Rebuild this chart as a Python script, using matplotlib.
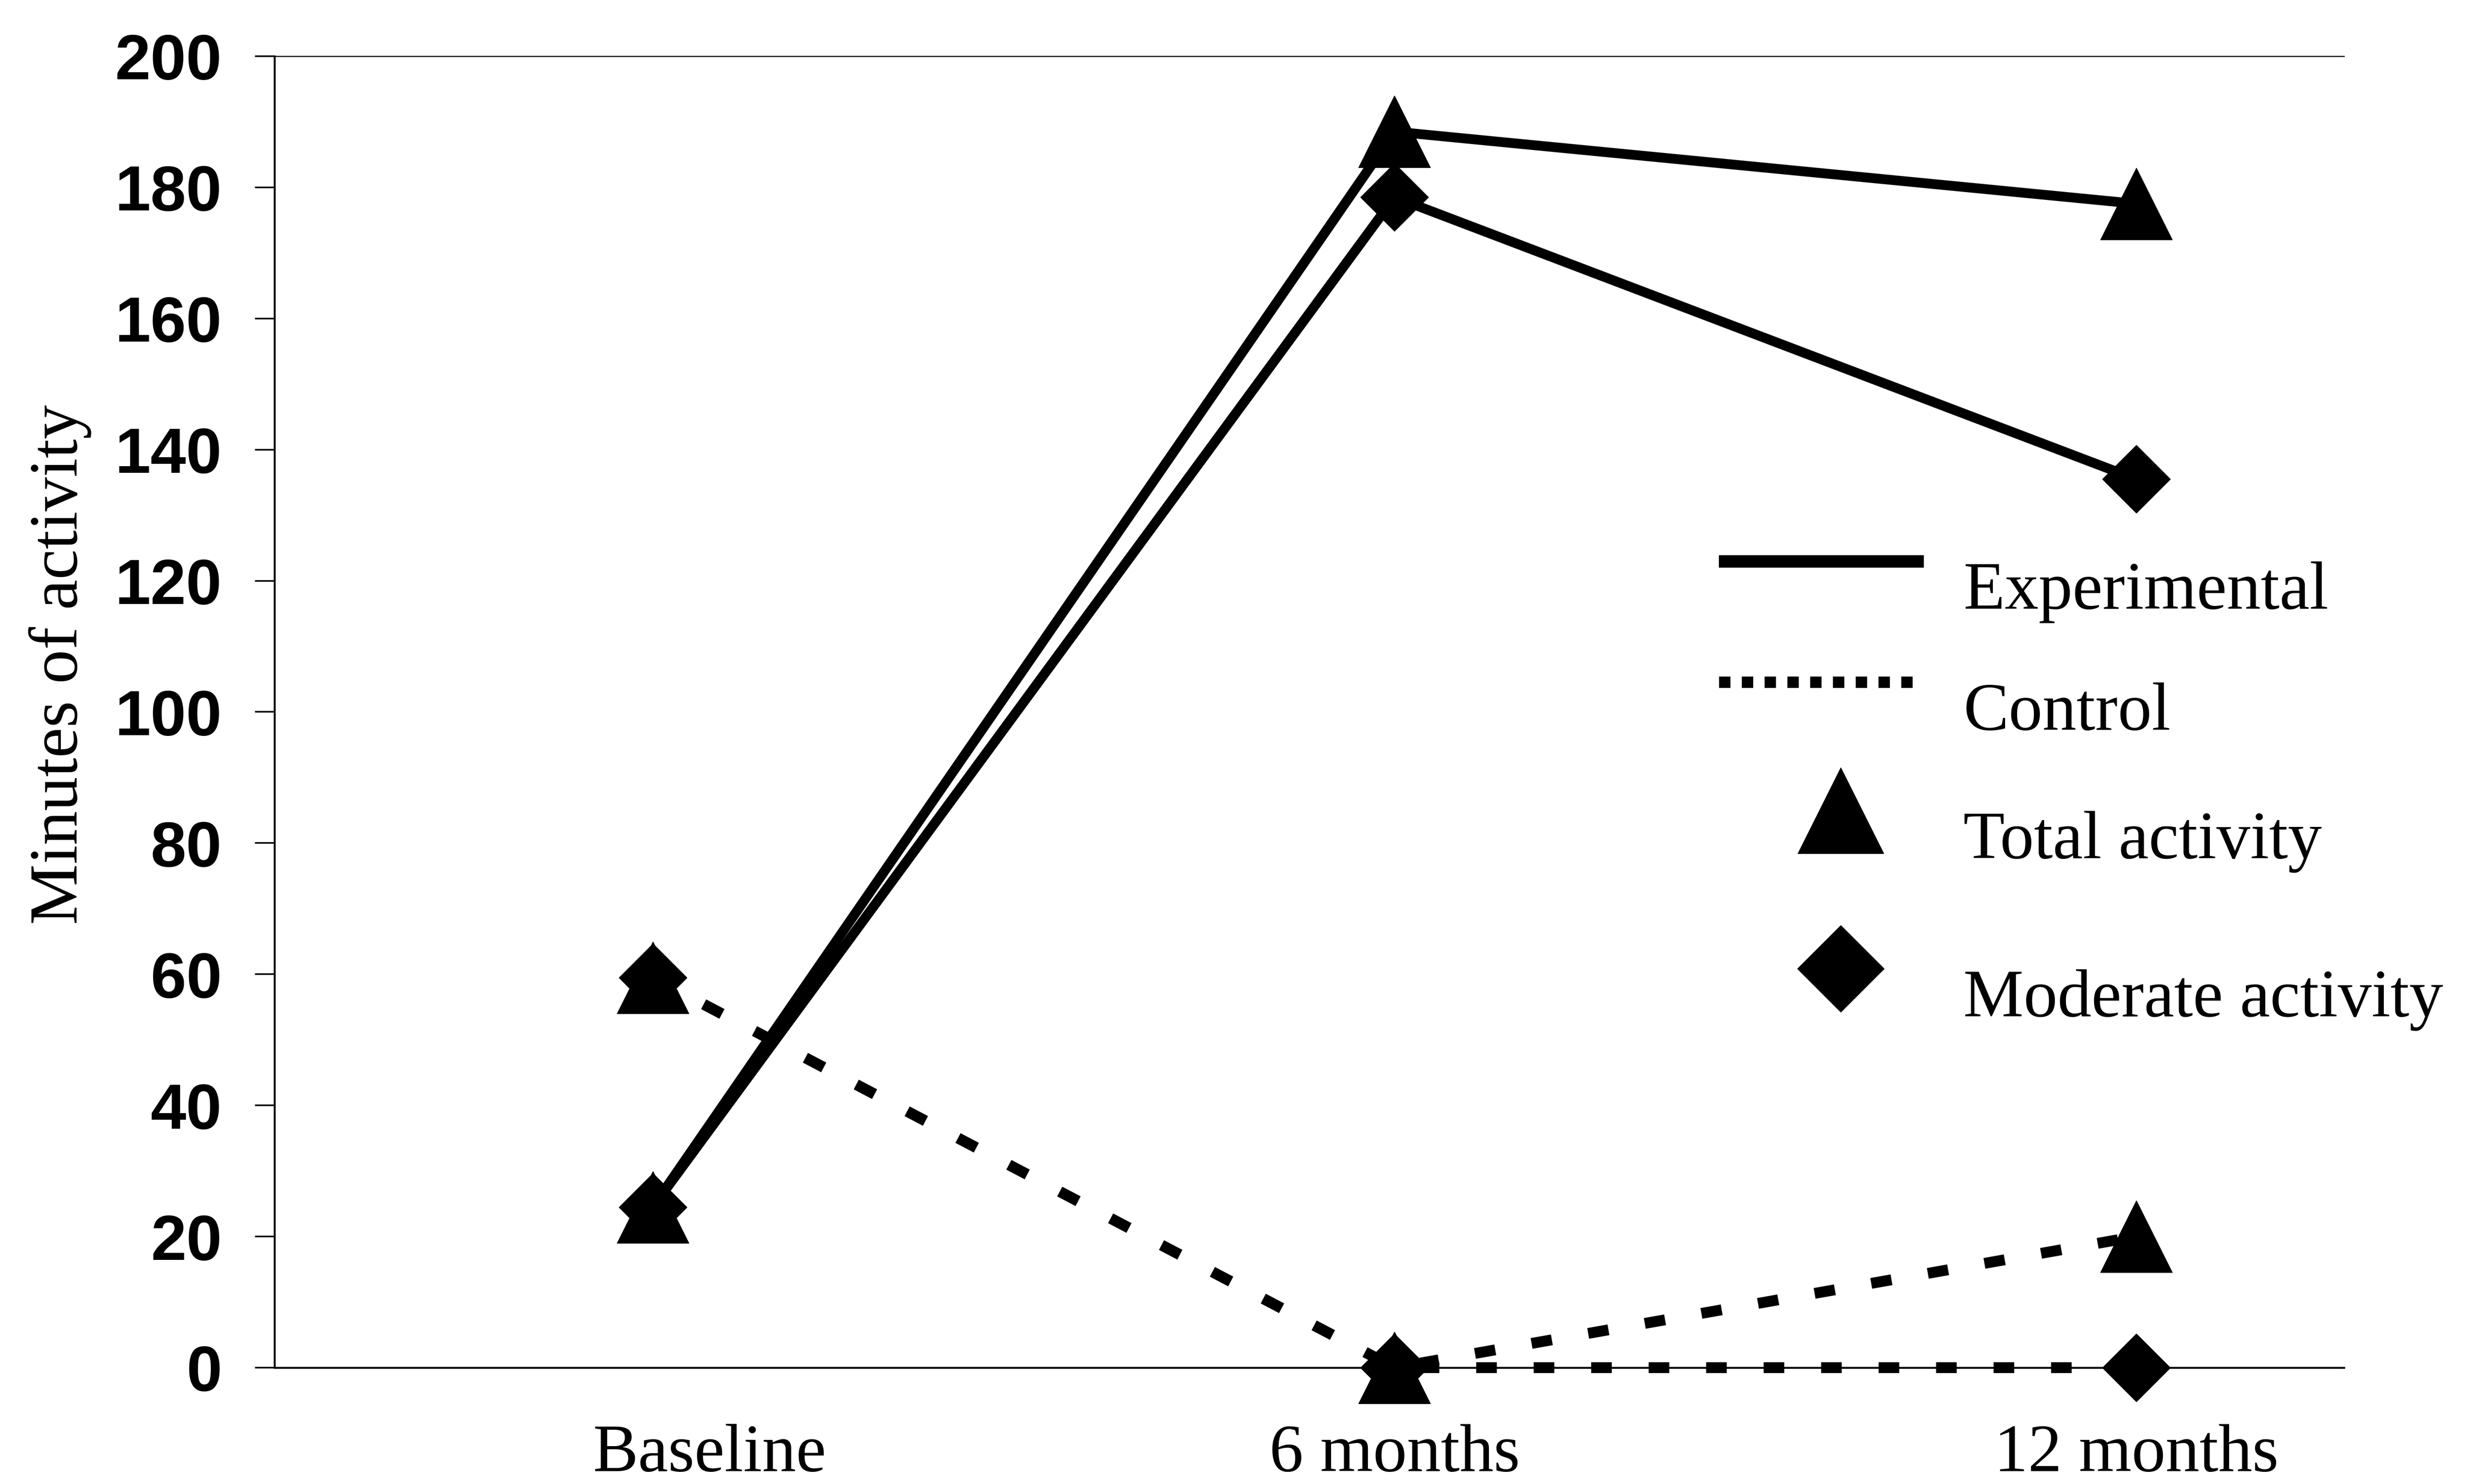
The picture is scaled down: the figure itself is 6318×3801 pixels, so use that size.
import matplotlib
matplotlib.use("Agg")
import matplotlib.pyplot as plt
from matplotlib.lines import Line2D
from matplotlib.legend_handler import HandlerLine2D
from matplotlib.transforms import ScaledTranslation

# ---- data ----
categories = ["Baseline", "6 months", "12 months"]
exp_total = [24.5, 188.5, 177.5]
exp_moderate = [24.5, 178.5, 135.5]
ctrl_total = [59.5, 0, 20]
ctrl_moderate = [59.5, 0, 0]
y_ticks = [0, 20, 40, 60, 80, 100, 120, 140, 160, 180, 200]
line_labels = ["Experimental", "Control"]
marker_labels = ["Total activity", "Moderate activity"]
y_label = "Minutes of activity"


class RaisedHandler(HandlerLine2D):
    """Legend handler that draws the sample a bit above the text centre."""

    def __init__(self, shift, **kw):
        super().__init__(**kw)
        self.shift = shift

    def create_artists(self, legend, orig_handle, xdescent, ydescent, width,
                       height, fontsize, trans):
        return super().create_artists(legend, orig_handle, xdescent,
                                      ydescent - 2 * self.shift, width, height,
                                      fontsize, trans)


W, H = 6318, 3801
fig = plt.figure(figsize=(W / 100, H / 100), dpi=100)
ax = fig.add_axes([703 / W, 1 - 3503 / H, 5300 / W, 3359 / H])

x = list(range(len(categories)))

solid_lw = 18
dash_lw = 20
tri_ms = 132
dia_ms = 89

ax.plot(x, exp_total, color="black", lw=solid_lw, marker="^", ms=tri_ms,
        solid_capstyle="butt", clip_on=False, zorder=3)
ax.plot(x, exp_moderate, color="black", lw=solid_lw, marker="D", ms=dia_ms,
        solid_capstyle="butt", clip_on=False, zorder=3)
ax.plot(x, ctrl_total, color="black", lw=dash_lw, linestyle=(0, (1.9, 3.4)),
        marker="^", ms=tri_ms, clip_on=False, zorder=3)
ax.plot(x, ctrl_moderate, color="black", lw=dash_lw, linestyle=(0, (1.9, 3.4)),
        marker="D", ms=dia_ms, clip_on=False, zorder=3)

ax.set_xlim(-0.51, 2.28)
ax.set_ylim(0, 200)
ax.set_yticks(y_ticks)
ax.set_yticklabels([str(v) for v in y_ticks], fontfamily="Liberation Sans",
                   fontweight="bold", fontsize=118)
ax.set_xticks(x)
ax.set_xticklabels(categories, fontfamily="Liberation Serif", fontsize=125)

ax.tick_params(axis="y", direction="out", length=36, width=3, pad=61, colors="black")
ax.tick_params(axis="x", length=0, pad=104)

# first category label sits slightly right of its point in the original
lbl = ax.get_xticklabels()[0]
lbl.set_transform(lbl.get_transform() + ScaledTranslation(1.46, 0, fig.dpi_scale_trans))

for side in ["left", "bottom"]:
    ax.spines[side].set_linewidth(3.5)
ax.spines["top"].set_linewidth(2)
ax.spines["right"].set_visible(False)

ax.set_ylabel(y_label, fontfamily="Liberation Serif", fontsize=126)
ax.yaxis.set_label_coords(-0.0885, 0.536)

legend_font = {"family": "Liberation Serif", "size": 125}
hmap = {Line2D: RaisedHandler(44)}

line_handles = [
    Line2D([], [], color="black", lw=23, solid_capstyle="butt"),
    Line2D([], [], color="black", lw=21, linestyle=(0, (1, 1))),
]
leg1 = ax.legend(line_handles, line_labels, loc="upper left",
                 bbox_to_anchor=(0.698, 0.6148), borderaxespad=0, borderpad=0,
                 frameon=False, prop=legend_font, handlelength=3.02,
                 handletextpad=0.59, labelspacing=0.87, handler_map=hmap)
ax.add_artist(leg1)

marker_handles = [
    Line2D([], [], color="black", ls="none", marker="^", ms=158),
    Line2D([], [], color="black", ls="none", marker="D", ms=113),
]
ax.legend(marker_handles, marker_labels, loc="upper left",
          bbox_to_anchor=(0.724, 0.4248), borderaxespad=0, borderpad=0,
          frameon=False, numpoints=1, prop=legend_font, handlelength=2.0,
          handletextpad=0.81, labelspacing=1.42, handler_map=hmap)

fig.savefig("out.png", dpi=100, facecolor="white")
